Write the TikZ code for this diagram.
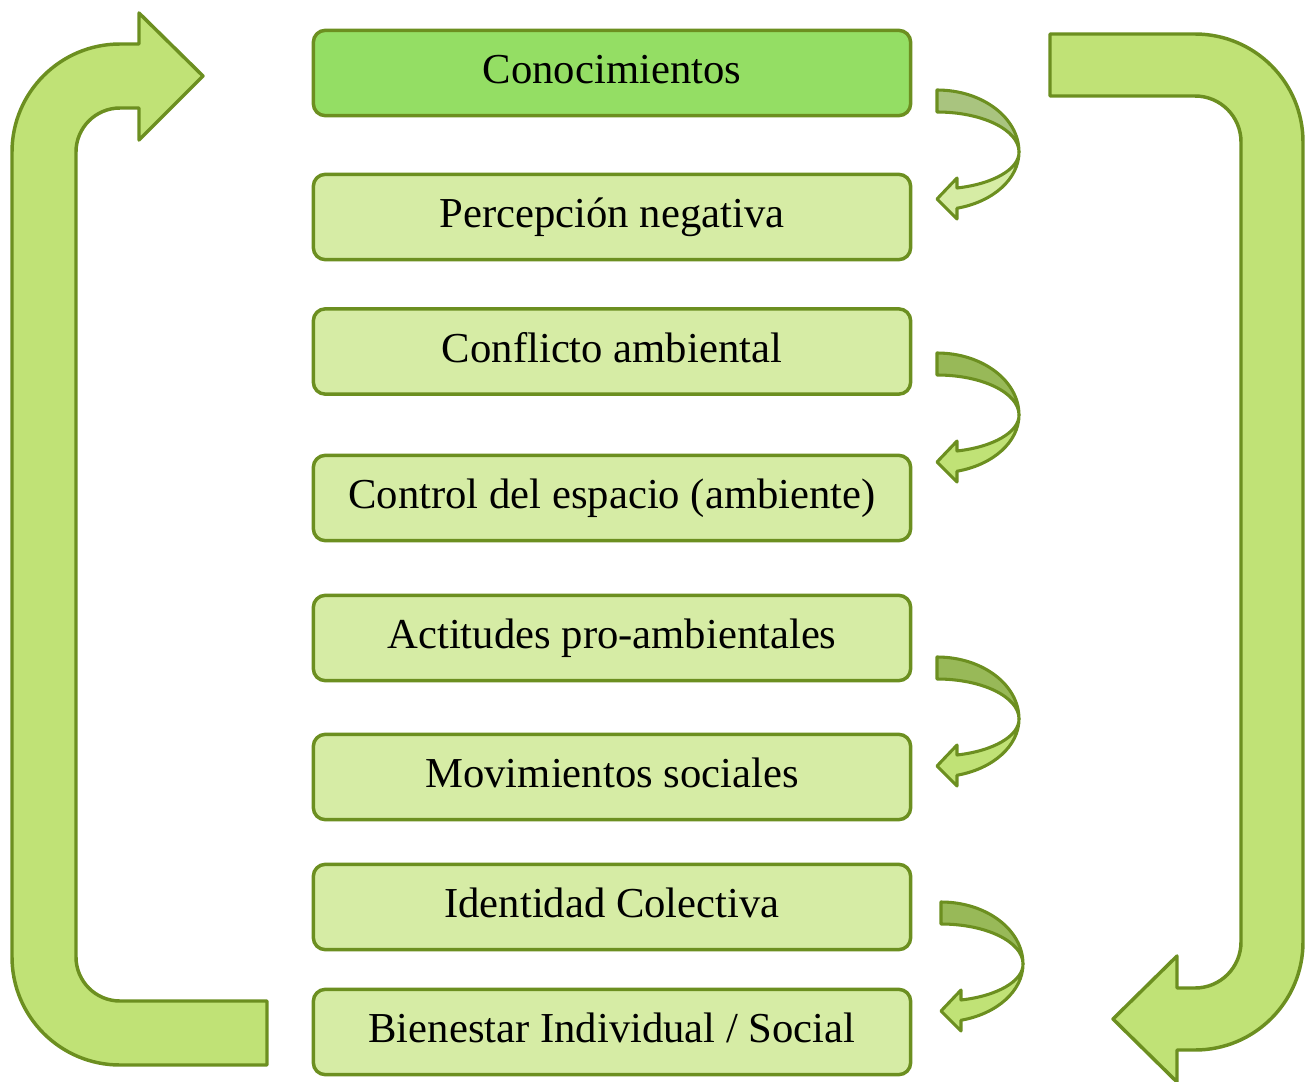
\documentclass[tikz,border=0pt]{standalone}
\usepackage{fontspec}
\setmainfont{Liberation Serif}
\definecolor{rim}{RGB}{108,143,32}
\definecolor{leafgreen}{RGB}{148,222,100}
\definecolor{palegreen}{RGB}{214,236,165}
\definecolor{limegreen}{RGB}{192,226,118}
\definecolor{backA}{RGB}{169,196,127}
\definecolor{backB}{RGB}{152,185,88}
\tikzset{
  stage/.style={draw=rim, line width=2.6pt, fill=palegreen, rounded corners=9pt,
    minimum width=448pt, minimum height=64pt, text height=24pt, text depth=8pt,
    font=\fontsize{32}{38}\selectfont},
  firststage/.style={stage, fill=leafgreen},
  bigarrow/.style={draw=rim, line width=2.6pt, fill=limegreen, line join=round},
  bendarrow/.style={draw=rim, line width=2.3pt, line join=round}
}
\begin{document}
\begin{tikzpicture}[x=0.75pt,y=-0.75pt]
  \useasboundingbox (0,0) rectangle (1311,1082);

  % stages
  \node[firststage] (conoc) at (612,73) {Conocimientos};
  \node[stage] (percep) at (612,217) {Percepción negativa};
  \node[stage] (conflic) at (612,351.5) {Conflicto ambiental};
  \node[stage] (control) at (612,498) {Control del espacio (ambiente)};
  \node[stage] (actit) at (612,638) {Actitudes pro-ambientales};
  \node[stage] (movim) at (612,777) {Movimientos sociales};
  \node[stage] (ident) at (612,907) {Identidad Colectiva};
  \node[stage] (bienes) at (612,1032) {Bienestar Individual / Social};

  % small bent arrows between pairs
  \foreach \dx/\dy/\backcol/\frontcol in {0/0/backA/palegreen, 0/263/backB/limegreen,
      0/567/backB/limegreen, 4/812/backB/limegreen}{
    \begin{scope}[shift={(\dx,\dy)}]
      \draw[bendarrow, fill=\backcol] (937,90)
        arc[start angle=-90, end angle=0, x radius=82, y radius=62]
        arc[start angle=0, end angle=-90, x radius=82, y radius=40] -- cycle;
      \draw[bendarrow, fill=\frontcol] (1019,152)
        arc[start angle=0, end angle=75.9, x radius=82, y radius=58]
        -- (957,219) -- (937,199) -- (957,178) -- (957,188)
        arc[start angle=75.9, end angle=0, x radius=82, y radius=37] -- cycle;
    \end{scope}
  }

  % big return arrow, left
  \draw[bigarrow] (267,1065) -- (120,1065)
    arc[start angle=90, end angle=180, radius=108] -- (12,152)
    arc[start angle=180, end angle=270, radius=108] -- (139,44) -- (139,13)
    -- (203,76) -- (139,140) -- (139,108) -- (120,108)
    arc[start angle=270, end angle=180, radius=44] -- (76,957)
    arc[start angle=180, end angle=90, radius=44] -- (267,1001) -- cycle;

  % big arrow, right
  \draw[bigarrow] (1050,34) -- (1195,34)
    arc[start angle=270, end angle=360, radius=108] -- (1303,942)
    arc[start angle=0, end angle=90, radius=108] -- (1177,1050) -- (1177,1082)
    -- (1113,1019) -- (1177,956) -- (1177,988) -- (1195,988)
    arc[start angle=90, end angle=0, radius=46] -- (1241,142)
    arc[start angle=0, end angle=-90, radius=46] -- (1050,96) -- cycle;
\end{tikzpicture}
\end{document}
